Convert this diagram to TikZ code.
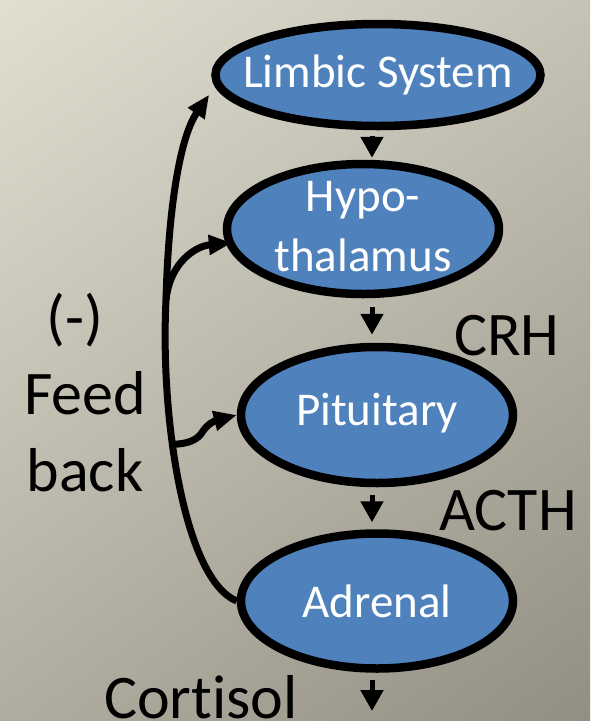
\documentclass[tikz,border=0pt]{standalone}
\usepackage{fontspec}
\setmainfont{Carlito}[Ligatures=NoCommon]
\usepackage{tikz}
\usetikzlibrary{shapes.geometric,shadings}
\usetikzlibrary{arrows.meta,calc}
\usepackage{xcolor}
\definecolor{bgTL}{RGB}{224,223,208}
\definecolor{bgTR}{RGB}{198,195,182}
\definecolor{bgBL}{RGB}{176,173,160}
\definecolor{bgBR}{RGB}{146,143,130}
\definecolor{organblue}{RGB}{79,129,189}
\tikzset{
	organ/.style={ellipse, draw=black, line width=8.5pt, fill=organblue, inner sep=0pt}
}
\tikzstyle{organtext}=[text=white, inner sep=0pt, align=center, font=\fontsize{47}{60}\selectfont]
\tikzstyle{hormone}=[inner sep=0pt, align=center, font=\fontsize{62}{77}\selectfont]
\tikzstyle{cascade}=[line width=5pt, -{Triangle[length=21pt,width=22pt]}]
\tikzstyle{feedback}=[line width=7pt, -{Triangle[length=23pt,width=19pt]}]

\begin{document}
\begin{tikzpicture}[x=1pt, y=-1pt]
	\shade[upper left=bgTL, upper right=bgTR, lower left=bgBL, lower right=bgBR] (0,0) rectangle (590,721);
	\useasboundingbox (0,0) rectangle (590,721);
	\node[organ, minimum width=325pt, minimum height=102pt] (limbic) at (378,75) {};
	\node[organ, minimum width=272pt, minimum height=130pt] (hypo) at (363,229) {};
	\node[organ, minimum width=272pt, minimum height=136pt] (pituitary) at (377,415) {};
	\node[organ, minimum width=272pt, minimum height=135pt] (adrenal) at (377,601) {};
	\node[organtext] (limbictext) at (limbic) {Limbic System};
	\node[organtext] (hypotext) at ([yshift=2pt]hypo.center) {Hypo-\\thalamus};
	\node[organtext] (pituitarytext) at ([yshift=2pt]pituitary.center) {Pituitary};
	\node[organtext] (adrenaltext) at (adrenal) {Adrenal};
	\node[hormone, anchor=base west] (crh) at (454,355) {CRH};
	\node[hormone, anchor=base west] (acth) at (439,530) {ACTH};
	\node[hormone, anchor=base west] (cortisol) at (104,718) {Cortisol};
	\node[hormone] (fbsign) at (75,320) {(-)};
	\node[hormone, anchor=north] (fblabel) at (85,371) {Feed\\back};
	\coordinate (axis) at (372,0);
	\coordinate (out) at (372,711);
	\draw[cascade, shorten <=6pt, shorten >=2pt] (limbic.south -| axis) -- (hypo.north -| axis);
	\draw[cascade, shorten <=9pt, shorten >=8pt] (hypo.south -| axis) -- (pituitary.north -| axis);
	\draw[cascade, shorten <=8pt, shorten >=7pt] (pituitary.south -| axis) -- (adrenal.north -| axis);
	\draw[cascade, shorten <=7pt] (adrenal.south -| axis) -- (out);
	\draw[feedback, shorten >=10pt] (adrenal.west) .. controls (185,580) and (160,420) .. (166,300) coordinate (fb) coordinate[pos=0.62] (fbpit)
		.. controls (168,220) and (178,140) .. (limbic.184);
	\draw[feedback, shorten >=-6pt] (fb) .. controls (170,262) and (196,246) .. (hypo.186);
	\draw[feedback] (fbpit) .. controls (188,444) and (198,440) .. (203,431) coordinate (kink)
		.. controls (208,424) and (214,421) .. (pituitary.west);
\end{tikzpicture}
\end{document}
